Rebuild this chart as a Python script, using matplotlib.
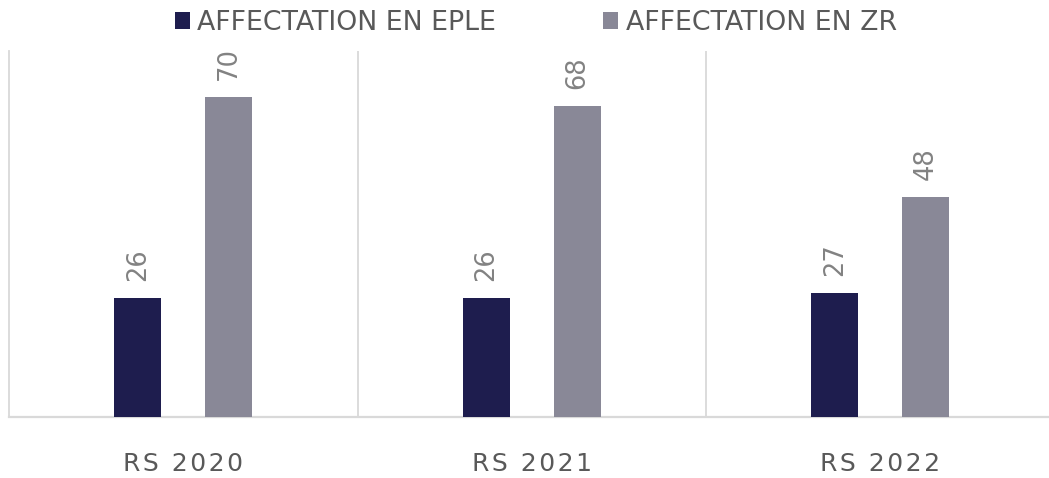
import matplotlib
matplotlib.use("Agg")
import matplotlib.pyplot as plt
from matplotlib.patches import Patch
import numpy as np

categories = ["RS 2020", "RS 2021", "RS 2022"]
series_names = ["AFFECTATION EN EPLE", "AFFECTATION EN ZR"]
eple = [26, 26, 27]
zr = [70, 68, 48]
colors = ["#1e1d4e", "#898897"]

W, H = 1049, 478
fig = plt.figure(figsize=(W / 100, H / 100), dpi=100)
ax = fig.add_axes([9 / W, 61 / H, 1045.5 / W, 366 / H])

x = np.arange(len(categories))
bw = 0.135
off = 0.13
b1 = ax.bar(x - off, eple, width=bw, color=colors[0], zorder=3)
b2 = ax.bar(x + off, zr, width=bw, color=colors[1], zorder=3)

for bars in (b1, b2):
    for r in bars:
        ax.annotate(f"{r.get_height():g}",
                    (r.get_x() + r.get_width() / 2, r.get_height()),
                    xytext=(0, 17), textcoords="offset pixels",
                    rotation=90, ha="center", va="bottom",
                    fontsize=18.5, color="#828282")

ax.set_xlim(-0.5, len(categories) - 0.5)
ax.set_ylim(0, 80)
for xv in np.arange(0.5, len(categories), 1.0):
    ax.axvline(xv, color="#d9d9d9", lw=1.3, zorder=1)

for s in ("top", "right"):
    ax.spines[s].set_visible(False)
ax.spines["left"].set_color("#d9d9d9")
ax.spines["left"].set_linewidth(1.3)
ax.spines["bottom"].set_color("#d9d9d9")
ax.spines["bottom"].set_linewidth(1.6)
ax.set_yticks([])

hs = "\u200a"
spaced = [hs.join(list(c)) for c in categories]
ax.set_xticks(x)
ax.set_xticklabels(spaced, fontsize=18, color="#595959")
ax.tick_params(axis="x", length=0, pad=25)

handles = [Patch(facecolor=c, edgecolor="none") for c in colors]
fig.legend(handles, series_names, loc="center", bbox_to_anchor=(536 / W, 1 - 23 / H),
           ncol=2, frameon=False, fontsize=19.3, labelcolor="#595959",
           handlelength=0.56, handleheight=0.62, handletextpad=0.28, columnspacing=4.0)

fig.savefig("out.png", dpi=100)
